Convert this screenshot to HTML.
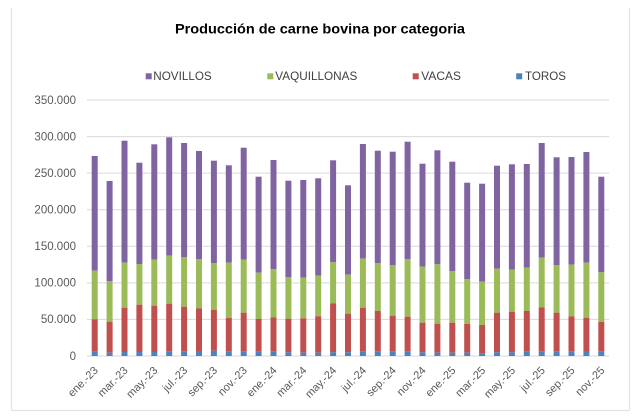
<!DOCTYPE html>
<html><head><meta charset="utf-8"><style>
html,body{margin:0;padding:0;background:#fff;}
svg{display:block;font-family:"Liberation Sans",Arial,sans-serif;}
</style></head><body>
<svg width="640" height="419" viewBox="0 0 640 419" xmlns="http://www.w3.org/2000/svg">
<rect width="640" height="419" fill="#fff"/>
<g stroke="#e3e3e3" stroke-width="1.2" fill="none">
<line x1="11.5" y1="8" x2="11.5" y2="410.5"/>
<line x1="629.5" y1="8" x2="629.5" y2="410.5"/>
<line x1="11.5" y1="410.5" x2="629.5" y2="410.5"/>
</g>
<text x="320" y="33.3" text-anchor="middle" font-size="14" font-weight="bold" fill="#000" textLength="290" lengthAdjust="spacingAndGlyphs">Producción de carne bovina por categoria</text>
<g font-size="11.5" fill="#404040">
<rect x="145.7" y="73.3" width="6" height="6" fill="#8064A2"/>
<text x="153.3" y="80" textLength="58.4" lengthAdjust="spacingAndGlyphs">NOVILLOS</text>
<rect x="267.3" y="73.3" width="6" height="6" fill="#9BBB59"/>
<text x="275.3" y="80" textLength="82" lengthAdjust="spacingAndGlyphs">VAQUILLONAS</text>
<rect x="412.7" y="73.3" width="6" height="6" fill="#C0504D"/>
<text x="421.3" y="80" textLength="39.7" lengthAdjust="spacingAndGlyphs">VACAS</text>
<rect x="516.2" y="73.3" width="6" height="6" fill="#4F81BD"/>
<text x="525" y="80" textLength="41" lengthAdjust="spacingAndGlyphs">TOROS</text>
</g>
<g stroke="#d9d9d9" stroke-width="1">
<line x1="87" y1="100" x2="609" y2="100"/>
<line x1="87" y1="136.6" x2="609" y2="136.6"/>
<line x1="87" y1="173.1" x2="609" y2="173.1"/>
<line x1="87" y1="209.7" x2="609" y2="209.7"/>
<line x1="87" y1="246.3" x2="609" y2="246.3"/>
<line x1="87" y1="282.9" x2="609" y2="282.9"/>
<line x1="87" y1="319.4" x2="609" y2="319.4"/>
<line x1="87" y1="356" x2="609" y2="356"/>
</g>
<g font-size="11.5" fill="#595959" text-anchor="end">
<text x="76" y="103.8">350.000</text>
<text x="76" y="140.4">300.000</text>
<text x="76" y="176.9">250.000</text>
<text x="76" y="213.5">200.000</text>
<text x="76" y="250.1">150.000</text>
<text x="76" y="286.7">100.000</text>
<text x="76" y="323.2">50.000</text>
<text x="76" y="359.8">0</text>
</g>
<g>
<rect x="91.7" y="156.0" width="6" height="114.7" fill="#8064A2"/><rect x="91.7" y="270.7" width="6" height="48.6" fill="#9BBB59"/><rect x="91.7" y="319.3" width="6" height="32.4" fill="#C0504D"/><rect x="91.7" y="351.7" width="6" height="4.3" fill="#4F81BD"/>
<rect x="106.6" y="181.0" width="6" height="100" fill="#8064A2"/><rect x="106.6" y="281.0" width="6" height="40.7" fill="#9BBB59"/><rect x="106.6" y="321.7" width="6" height="31" fill="#C0504D"/><rect x="106.6" y="352.7" width="6" height="3.3" fill="#4F81BD"/>
<rect x="121.5" y="140.7" width="6" height="122" fill="#8064A2"/><rect x="121.5" y="262.7" width="6" height="45" fill="#9BBB59"/><rect x="121.5" y="307.7" width="6" height="44.3" fill="#C0504D"/><rect x="121.5" y="352.0" width="6" height="4" fill="#4F81BD"/>
<rect x="136.4" y="162.7" width="6" height="101.3" fill="#8064A2"/><rect x="136.4" y="264.0" width="6" height="40.7" fill="#9BBB59"/><rect x="136.4" y="304.7" width="6" height="47.3" fill="#C0504D"/><rect x="136.4" y="352.0" width="6" height="4" fill="#4F81BD"/>
<rect x="151.3" y="144.3" width="6" height="115.4" fill="#8064A2"/><rect x="151.3" y="259.7" width="6" height="46" fill="#9BBB59"/><rect x="151.3" y="305.7" width="6" height="46.3" fill="#C0504D"/><rect x="151.3" y="352.0" width="6" height="4" fill="#4F81BD"/>
<rect x="166.2" y="137.3" width="6" height="118.4" fill="#8064A2"/><rect x="166.2" y="255.7" width="6" height="48" fill="#9BBB59"/><rect x="166.2" y="303.7" width="6" height="47.6" fill="#C0504D"/><rect x="166.2" y="351.3" width="6" height="4.7" fill="#4F81BD"/>
<rect x="181.1" y="143.0" width="6" height="114" fill="#8064A2"/><rect x="181.1" y="257.0" width="6" height="49.7" fill="#9BBB59"/><rect x="181.1" y="306.7" width="6" height="44.6" fill="#C0504D"/><rect x="181.1" y="351.3" width="6" height="4.7" fill="#4F81BD"/>
<rect x="196.0" y="151.0" width="6" height="108.3" fill="#8064A2"/><rect x="196.0" y="259.3" width="6" height="49" fill="#9BBB59"/><rect x="196.0" y="308.3" width="6" height="42.7" fill="#C0504D"/><rect x="196.0" y="351.0" width="6" height="5" fill="#4F81BD"/>
<rect x="210.9" y="160.7" width="6" height="102.6" fill="#8064A2"/><rect x="210.9" y="263.3" width="6" height="46.4" fill="#9BBB59"/><rect x="210.9" y="309.7" width="6" height="41" fill="#C0504D"/><rect x="210.9" y="350.7" width="6" height="5.3" fill="#4F81BD"/>
<rect x="225.8" y="165.3" width="6" height="97.4" fill="#8064A2"/><rect x="225.8" y="262.7" width="6" height="55.3" fill="#9BBB59"/><rect x="225.8" y="318.0" width="6" height="33.3" fill="#C0504D"/><rect x="225.8" y="351.3" width="6" height="4.7" fill="#4F81BD"/>
<rect x="240.7" y="147.7" width="6" height="112" fill="#8064A2"/><rect x="240.7" y="259.7" width="6" height="53" fill="#9BBB59"/><rect x="240.7" y="312.7" width="6" height="38.6" fill="#C0504D"/><rect x="240.7" y="351.3" width="6" height="4.7" fill="#4F81BD"/>
<rect x="255.6" y="176.7" width="6" height="96" fill="#8064A2"/><rect x="255.6" y="272.7" width="6" height="46.3" fill="#9BBB59"/><rect x="255.6" y="319.0" width="6" height="32.7" fill="#C0504D"/><rect x="255.6" y="351.7" width="6" height="4.3" fill="#4F81BD"/>
<rect x="270.5" y="160.0" width="6" height="109" fill="#8064A2"/><rect x="270.5" y="269.0" width="6" height="48.3" fill="#9BBB59"/><rect x="270.5" y="317.3" width="6" height="34.4" fill="#C0504D"/><rect x="270.5" y="351.7" width="6" height="4.3" fill="#4F81BD"/>
<rect x="285.4" y="180.7" width="6" height="96.3" fill="#8064A2"/><rect x="285.4" y="277.0" width="6" height="41.7" fill="#9BBB59"/><rect x="285.4" y="318.7" width="6" height="33.6" fill="#C0504D"/><rect x="285.4" y="352.3" width="6" height="3.7" fill="#4F81BD"/>
<rect x="300.3" y="180.0" width="6" height="97.7" fill="#8064A2"/><rect x="300.3" y="277.7" width="6" height="40.6" fill="#9BBB59"/><rect x="300.3" y="318.3" width="6" height="34.4" fill="#C0504D"/><rect x="300.3" y="352.7" width="6" height="3.3" fill="#4F81BD"/>
<rect x="315.2" y="178.3" width="6" height="97.4" fill="#8064A2"/><rect x="315.2" y="275.7" width="6" height="40.6" fill="#9BBB59"/><rect x="315.2" y="316.3" width="6" height="36.4" fill="#C0504D"/><rect x="315.2" y="352.7" width="6" height="3.3" fill="#4F81BD"/>
<rect x="330.1" y="160.3" width="6" height="102" fill="#8064A2"/><rect x="330.1" y="262.3" width="6" height="41" fill="#9BBB59"/><rect x="330.1" y="303.3" width="6" height="49" fill="#C0504D"/><rect x="330.1" y="352.3" width="6" height="3.7" fill="#4F81BD"/>
<rect x="345.0" y="185.3" width="6" height="89.4" fill="#8064A2"/><rect x="345.0" y="274.7" width="6" height="39" fill="#9BBB59"/><rect x="345.0" y="313.7" width="6" height="38.6" fill="#C0504D"/><rect x="345.0" y="352.3" width="6" height="3.7" fill="#4F81BD"/>
<rect x="359.9" y="144.0" width="6" height="114.7" fill="#8064A2"/><rect x="359.9" y="258.7" width="6" height="49" fill="#9BBB59"/><rect x="359.9" y="307.7" width="6" height="43.6" fill="#C0504D"/><rect x="359.9" y="351.3" width="6" height="4.7" fill="#4F81BD"/>
<rect x="374.8" y="150.7" width="6" height="112.6" fill="#8064A2"/><rect x="374.8" y="263.3" width="6" height="47.7" fill="#9BBB59"/><rect x="374.8" y="311.0" width="6" height="40.3" fill="#C0504D"/><rect x="374.8" y="351.3" width="6" height="4.7" fill="#4F81BD"/>
<rect x="389.7" y="151.7" width="6" height="113.6" fill="#8064A2"/><rect x="389.7" y="265.3" width="6" height="50.4" fill="#9BBB59"/><rect x="389.7" y="315.7" width="6" height="35.6" fill="#C0504D"/><rect x="389.7" y="351.3" width="6" height="4.7" fill="#4F81BD"/>
<rect x="404.6" y="141.7" width="6" height="117.3" fill="#8064A2"/><rect x="404.6" y="259.0" width="6" height="57.7" fill="#9BBB59"/><rect x="404.6" y="316.7" width="6" height="34.6" fill="#C0504D"/><rect x="404.6" y="351.3" width="6" height="4.7" fill="#4F81BD"/>
<rect x="419.5" y="163.7" width="6" height="103" fill="#8064A2"/><rect x="419.5" y="266.7" width="6" height="56" fill="#9BBB59"/><rect x="419.5" y="322.7" width="6" height="29.6" fill="#C0504D"/><rect x="419.5" y="352.3" width="6" height="3.7" fill="#4F81BD"/>
<rect x="434.4" y="150.3" width="6" height="114" fill="#8064A2"/><rect x="434.4" y="264.3" width="6" height="59.4" fill="#9BBB59"/><rect x="434.4" y="323.7" width="6" height="29" fill="#C0504D"/><rect x="434.4" y="352.7" width="6" height="3.3" fill="#4F81BD"/>
<rect x="449.3" y="161.7" width="6" height="109.3" fill="#8064A2"/><rect x="449.3" y="271.0" width="6" height="51.7" fill="#9BBB59"/><rect x="449.3" y="322.7" width="6" height="30" fill="#C0504D"/><rect x="449.3" y="352.7" width="6" height="3.3" fill="#4F81BD"/>
<rect x="464.2" y="182.7" width="6" height="96.3" fill="#8064A2"/><rect x="464.2" y="279.0" width="6" height="45" fill="#9BBB59"/><rect x="464.2" y="324.0" width="6" height="28.7" fill="#C0504D"/><rect x="464.2" y="352.7" width="6" height="3.3" fill="#4F81BD"/>
<rect x="479.1" y="183.7" width="6" height="98" fill="#8064A2"/><rect x="479.1" y="281.7" width="6" height="43.3" fill="#9BBB59"/><rect x="479.1" y="325.0" width="6" height="28.3" fill="#C0504D"/><rect x="479.1" y="353.3" width="6" height="2.7" fill="#4F81BD"/>
<rect x="494.0" y="165.7" width="6" height="103" fill="#8064A2"/><rect x="494.0" y="268.7" width="6" height="44" fill="#9BBB59"/><rect x="494.0" y="312.7" width="6" height="39.6" fill="#C0504D"/><rect x="494.0" y="352.3" width="6" height="3.7" fill="#4F81BD"/>
<rect x="508.9" y="164.3" width="6" height="105.4" fill="#8064A2"/><rect x="508.9" y="269.7" width="6" height="42" fill="#9BBB59"/><rect x="508.9" y="311.7" width="6" height="40.6" fill="#C0504D"/><rect x="508.9" y="352.3" width="6" height="3.7" fill="#4F81BD"/>
<rect x="523.8" y="164.0" width="6" height="103.7" fill="#8064A2"/><rect x="523.8" y="267.7" width="6" height="43.3" fill="#9BBB59"/><rect x="523.8" y="311.0" width="6" height="40.7" fill="#C0504D"/><rect x="523.8" y="351.7" width="6" height="4.3" fill="#4F81BD"/>
<rect x="538.7" y="143.0" width="6" height="114.7" fill="#8064A2"/><rect x="538.7" y="257.7" width="6" height="49.6" fill="#9BBB59"/><rect x="538.7" y="307.3" width="6" height="44" fill="#C0504D"/><rect x="538.7" y="351.3" width="6" height="4.7" fill="#4F81BD"/>
<rect x="553.6" y="157.3" width="6" height="108" fill="#8064A2"/><rect x="553.6" y="265.3" width="6" height="47.4" fill="#9BBB59"/><rect x="553.6" y="312.7" width="6" height="38.6" fill="#C0504D"/><rect x="553.6" y="351.3" width="6" height="4.7" fill="#4F81BD"/>
<rect x="568.5" y="157.0" width="6" height="107.7" fill="#8064A2"/><rect x="568.5" y="264.7" width="6" height="51.6" fill="#9BBB59"/><rect x="568.5" y="316.3" width="6" height="35" fill="#C0504D"/><rect x="568.5" y="351.3" width="6" height="4.7" fill="#4F81BD"/>
<rect x="583.4" y="152.0" width="6" height="110.7" fill="#8064A2"/><rect x="583.4" y="262.7" width="6" height="55" fill="#9BBB59"/><rect x="583.4" y="317.7" width="6" height="33.3" fill="#C0504D"/><rect x="583.4" y="351.0" width="6" height="5" fill="#4F81BD"/>
<rect x="598.3" y="176.7" width="6" height="95.6" fill="#8064A2"/><rect x="598.3" y="272.3" width="6" height="49.7" fill="#9BBB59"/><rect x="598.3" y="322.0" width="6" height="29.3" fill="#C0504D"/><rect x="598.3" y="351.3" width="6" height="4.7" fill="#4F81BD"/>
</g>
<g font-size="11" fill="#595959" text-anchor="end">
<text transform="translate(98.7,371) rotate(-45)">ene.-23</text>
<text transform="translate(128.5,371) rotate(-45)">mar.-23</text>
<text transform="translate(158.3,371) rotate(-45)">may.-23</text>
<text transform="translate(188.1,371) rotate(-45)">jul.-23</text>
<text transform="translate(217.9,371) rotate(-45)">sep.-23</text>
<text transform="translate(247.7,371) rotate(-45)">nov.-23</text>
<text transform="translate(277.5,371) rotate(-45)">ene.-24</text>
<text transform="translate(307.3,371) rotate(-45)">mar.-24</text>
<text transform="translate(337.1,371) rotate(-45)">may.-24</text>
<text transform="translate(366.9,371) rotate(-45)">jul.-24</text>
<text transform="translate(396.7,371) rotate(-45)">sep.-24</text>
<text transform="translate(426.5,371) rotate(-45)">nov.-24</text>
<text transform="translate(456.3,371) rotate(-45)">ene.-25</text>
<text transform="translate(486.1,371) rotate(-45)">mar.-25</text>
<text transform="translate(515.9,371) rotate(-45)">may.-25</text>
<text transform="translate(545.7,371) rotate(-45)">jul.-25</text>
<text transform="translate(575.5,371) rotate(-45)">sep.-25</text>
<text transform="translate(605.3,371) rotate(-45)">nov.-25</text>
</g>
</svg>
</body></html>
